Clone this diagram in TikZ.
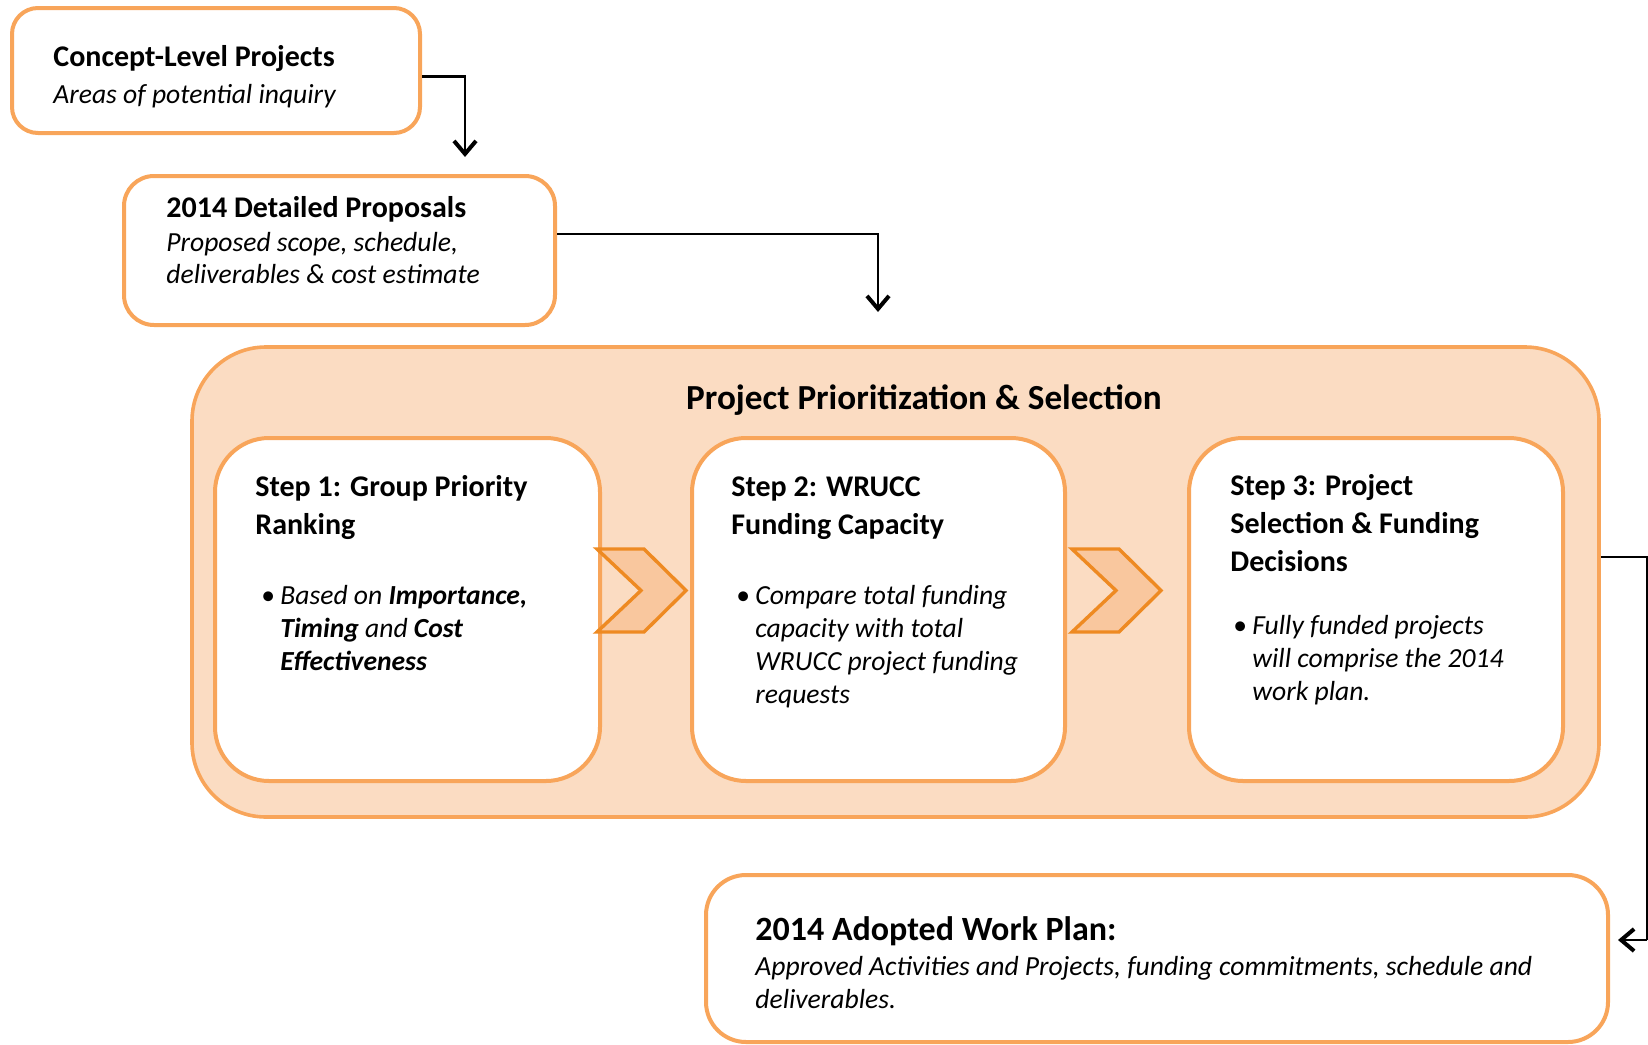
\documentclass[tikz,border=0pt]{standalone}
\usepackage{fontspec}
\setmainfont{Carlito}
\usetikzlibrary{arrows.meta}
\definecolor{obord}{HTML}{F8A55A}
\definecolor{ofill}{HTML}{FBDCC2}
\definecolor{chfill}{HTML}{F9C79E}
\definecolor{chline}{HTML}{EE8A22}
\tikzset{
  box/.style={draw=obord, line width=2pt, fill=white, inner sep=0pt},
  bigbox/.style={draw=obord, line width=1.8pt, fill=ofill, inner sep=0pt},
  chev/.style={draw=chline, fill=chfill, line width=1.7pt, line join=miter},
  conn/.style={draw=black, line width=1.1pt, -{Straight Barb[length=6.5pt,width=11pt,line width=2pt]}},
  plain/.style={draw=black, line width=1.1pt},
  txt/.style={anchor=base west, inner sep=0pt, align=left},
  bul/.style={txt, font=\fontsize{13.8}{16.5}\selectfont\itshape},
  stephead/.style={txt, font=\fontsize{15}{18.9}\selectfont\bfseries},
}
\newcommand\bl{\makebox[9.5pt][l]{\upshape\textbullet}}
\newcommand\ind{\hspace*{9.5pt}}
\begin{document}
\begin{tikzpicture}[x=0.5pt,y=-0.5pt]
\useasboundingbox (0,0) rectangle (1648,1044);

% boxes
\node[box, rounded corners=13pt, minimum width=204pt, minimum height=62.5pt] (c1) at (216,70.5) {};
\node[box, rounded corners=15pt, minimum width=215.5pt, minimum height=74.5pt] (c2) at (339.5,250.5) {};
\node[bigbox, rounded corners=37pt, minimum width=703.5pt, minimum height=235pt] (big) at (895.5,582) {};
\node[box, rounded corners=27pt, minimum width=192.5pt, minimum height=171.5pt] (s1) at (407.5,609.5) {};
\node[box, rounded corners=27pt, minimum width=186.5pt, minimum height=171.5pt] (s2) at (878.5,609.5) {};
\node[box, rounded corners=27pt, minimum width=187pt, minimum height=171.5pt] (s3) at (1376,609.5) {};
\node[box, rounded corners=20pt, minimum width=451pt, minimum height=83.5pt] (wp) at (1157,958.5) {};

% chevrons
\draw[chev] (597,549) -- (644,549) -- (686,590.5) -- (644,632) -- (597,632) -- (641,590.5) -- cycle;
\draw[chev] (1072,549) -- (1119,549) -- (1161,590.5) -- (1119,632) -- (1072,632) -- (1116,590.5) -- cycle;

% texts
\node[txt, font=\fontsize{15}{18}\selectfont\bfseries] (t1) at (53,66) {Concept-Level Projects};
\node[txt, font=\fontsize{13.8}{16}\selectfont\itshape] (t1b) at (53,103) {Areas of potential inquiry};
\node[txt, font=\fontsize{15}{18}\selectfont\bfseries] (t2) at (166,217) {2014 Detailed Proposals};
\node[txt, font=\fontsize{13.8}{16}\selectfont\itshape] (t2b) at (166,283) {Proposed scope, schedule,\\deliverables \& cost estimate};

\node[anchor=base, inner sep=0pt, font=\fontsize{17.6}{20}\selectfont\bfseries] (title) at (924,409) {Project Prioritization \& Selection};

\node[stephead] (h1) at (255,534) {Step 1: Group Priority\\Ranking};
\node[stephead] (h2) at (731,534) {Step 2: WRUCC\\Funding Capacity};
\node[stephead] (h3) at (1230,571.5) {Step 3: Project\\Selection \& Funding\\Decisions};

\node[bul] (b1) at (261,670)
  {\bl Based on \textbf{Importance,}\\\ind\textbf{Timing} and \textbf{Cost}\\\ind\textbf{Effectiveness}};
\node[bul] (b2) at (736,703)
  {\bl Compare total funding\\\ind capacity with total\\\ind WRUCC project funding\\\ind requests};
\node[bul] (b3) at (1233,700)
  {\bl Fully funded projects\\\ind will comprise the 2014\\\ind work plan.};

\node[txt, font=\fontsize{17}{20}\selectfont\bfseries] (hw) at (755,940) {2014 Adopted Work Plan:};
\node[txt, font=\fontsize{13.8}{16.5}\selectfont\itshape] (bw) at (755,1008) {Approved Activities and Projects, funding commitments, schedule and\\deliverables.};

% connectors
\coordinate (e1) at (465,157);
\coordinate (e2) at (878,312);
\coordinate (r1) at (1647,557);
\coordinate (r2) at (1647,940);
\coordinate (e3) at (1618,940);
\draw[conn] ([yshift=-3pt]c1.east) -| (e1);
\draw[conn] ([yshift=8.25pt]c2.east) -| (e2);
\draw[plain] (big.east |- r1) -- (r1) -- (r2);
\draw[conn] (r2) -- (e3);
\end{tikzpicture}
\end{document}
